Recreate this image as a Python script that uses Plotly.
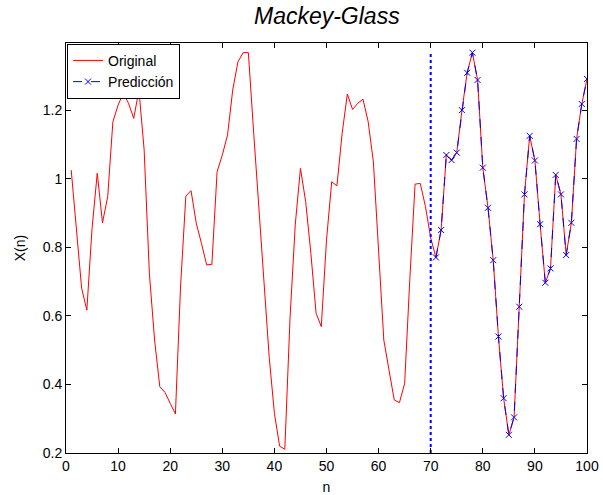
import plotly.graph_objects as go

n_orig = list(range(1, 101))
x_original = [
    1.026, 0.842, 0.681, 0.617, 0.856, 1.017, 0.872, 0.948, 1.167, 1.216,
    1.250, 1.221, 1.177, 1.260, 1.085, 0.725, 0.530, 0.394, 0.377, 0.345,
    0.314, 0.690, 0.950, 0.966, 0.871, 0.812, 0.749, 0.751, 1.021, 1.070,
    1.128, 1.260, 1.342, 1.369, 1.369, 1.140, 0.930, 0.700, 0.480, 0.316,
    0.220, 0.211, 0.594, 0.866, 1.031, 0.934, 0.783, 0.608, 0.569, 0.822,
    0.992, 0.980, 1.133, 1.248, 1.203, 1.221, 1.233, 1.167, 1.050, 0.790,
    0.530, 0.442, 0.355, 0.347, 0.403, 0.710, 0.985, 0.987, 0.919, 0.828,
    0.771, 0.851, 1.070, 1.055, 1.077, 1.201, 1.310, 1.369, 1.289, 1.033,
    0.916, 0.763, 0.540, 0.360, 0.253, 0.304, 0.627, 0.955, 1.126, 1.054,
    0.868, 0.697, 0.739, 1.012, 0.955, 0.778, 0.872, 1.117, 1.219, 1.292,
]

n_pred = list(range(71, 101))
x_pred = [
    0.771, 0.851, 1.070, 1.055, 1.077, 1.201, 1.310, 1.369, 1.289, 1.033,
    0.916, 0.763, 0.540, 0.360, 0.253, 0.304, 0.627, 0.955, 1.126, 1.054,
    0.868, 0.697, 0.739, 1.012, 0.955, 0.778, 0.872, 1.117, 1.219, 1.292,
]

split_n = 70
x_ticks = [0, 10, 20, 30, 40, 50, 60, 70, 80, 90, 100]
y_ticks = [0.2, 0.4, 0.6, 0.8, 1.0, 1.2]
y_tick_labels = ["0.2", "0.4", "0.6", "0.8", "1", "1.2"]

FONT = "Liberation Sans, Arial, sans-serif"

fig = go.Figure()
fig.add_trace(go.Scatter(
    x=n_orig, y=x_original, mode="lines", name="Original",
    line=dict(color="#ff0000", width=1),
))
fig.add_trace(go.Scatter(
    x=n_pred, y=x_pred, mode="lines+markers", name="Predicción",
    line=dict(color="#0000ff", width=1, dash="dash"),
    marker=dict(symbol="x-thin", size=6, color="#0000ff",
                line=dict(color="#0000ff", width=1)),
))
all_vals = x_original + x_pred
fig.add_trace(go.Scatter(
    x=[split_n, split_n], y=[0.2, max(all_vals)], mode="lines",
    showlegend=False, line=dict(color="#0000ff", width=2, dash="dot"),
))

fig.update_layout(
    width=603, height=495,
    margin=dict(l=66, r=16, t=43, b=42, autoexpand=False),
    paper_bgcolor="white", plot_bgcolor="white",
    font=dict(family=FONT, size=14, color="black"),
    title=dict(text="<i>Mackey-Glass</i>", x=0.542, xanchor="center",
               y=0.968, yanchor="middle",
               font=dict(family=FONT, size=23, color="black")),
    showlegend=True,
    legend=dict(x=0.002, y=0.998, xanchor="left", yanchor="top",
                bordercolor="black", borderwidth=1, bgcolor="white",
                font=dict(family=FONT, size=14, color="black"),
                tracegroupgap=0, itemwidth=30),
)
fig.update_xaxes(
    range=[0, 100], tickvals=x_ticks, showgrid=False, zeroline=False,
    showline=True, linecolor="black", linewidth=1, mirror="ticks",
    ticks="inside", ticklen=5, tickcolor="black", automargin=False,
    title=dict(text="n", standoff=9, font=dict(family=FONT, size=14)),
)
fig.update_yaxes(
    range=[0.2, 1.397], tickvals=y_ticks, ticktext=y_tick_labels,
    showgrid=False, zeroline=False, automargin=False,
    showline=True, linecolor="black", linewidth=1, mirror="ticks",
    ticks="inside", ticklen=5, tickcolor="black",
    title=dict(text="X(n)", standoff=13, font=dict(family=FONT, size=14)),
)

fig.write_html("out.html")
